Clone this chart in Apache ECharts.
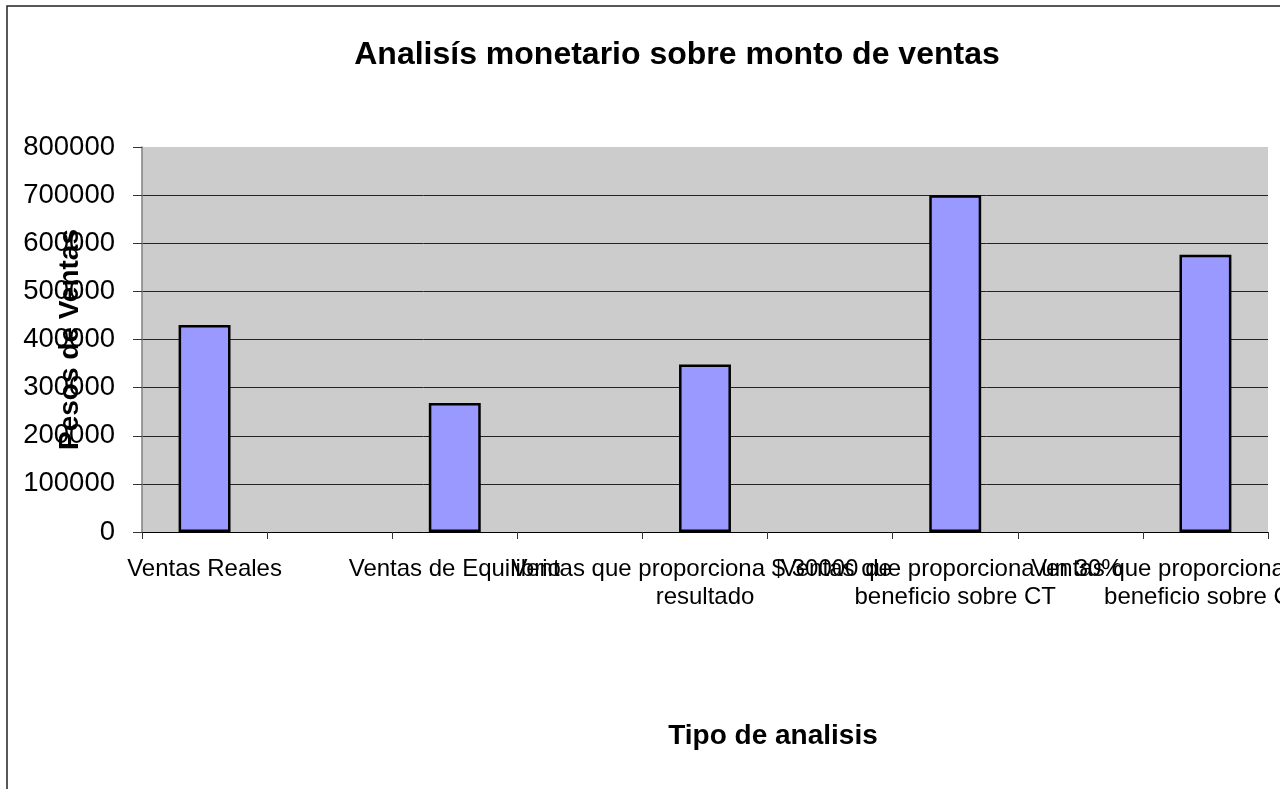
<!DOCTYPE html>
<html>
<head>
<meta charset="utf-8">
<script src="https://cdn.jsdelivr.net/npm/echarts@6/dist/echarts.min.js"></script>
<style>
  html, body { margin: 0; padding: 0; background: #fff; }
  #chart { width: 1280px; height: 789px; }
</style>
</head>
<body>
<div id="chart"></div>
<script>
// categorías (las vacías son filas en blanco de la hoja)
const categories = [
  'Ventas Reales', '',
  'Ventas de Equilibrio', '',
  'Ventas que proporciona $ 30000 de resultado', '',
  'Ventas que proporciona un 30% beneficio sobre CT', '',
  'Ventas que proporciona un 30% beneficio sobre CV'
]
const montos = [430000, null, 268000, null, 348000, null, 700000, null, 576000]
const yMin = 0
const yMax = 800000
const yStep = 100000

const fontName = "'Liberation Sans', Arial, sans-serif"

const chart = echarts.init(document.getElementById('chart'))

const option = {
  animation: false,
  title: {
    text: 'Analisís monetario sobre monto de ventas',
    left: 677,
    top: 39,
    textAlign: 'center',
    padding: 0,
    textStyle: {
      fontFamily: fontName,
      fontSize: 32,
      fontWeight: 'bold',
      color: '#000'
    }
  },
  graphic: [
    { // marco del gráfico
      type: 'rect',
      silent: true,
      shape: { x: 7, y: 6, width: 1400, height: 900 },
      style: { fill: 'none', stroke: '#222', lineWidth: 1.5 }
    }
  ],
  grid: {
    left: 142,
    right: 12,
    top: 147,
    bottom: 257,
    outerBoundsMode: 'none',
    containLabel: false,
    show: true,
    backgroundColor: '#cccccc',
    borderWidth: 0
  },
  xAxis: {
    type: 'category',
    data: categories,
    boundaryGap: true,
    name: 'Tipo de analisis',
    nameLocation: 'middle',
    nameGap: 190,
    nameMoveOverlap: false,
    nameTextStyle: {
      fontFamily: fontName,
      fontSize: 28,
      fontWeight: 'bold',
      color: '#000',
      padding: [0, 0, 0, 136]
    },
    axisLine: { lineStyle: { color: '#000', width: 1 } },
    axisTick: { show: true, length: 7, alignWithLabel: false, interval: 0, lineStyle: { color: '#333' } },
    axisLabel: {
      interval: 0,
      margin: 23,
      fontFamily: fontName,
      fontSize: 24,
      lineHeight: 28,
      color: '#000',
      width: 400,
      overflow: 'break',
      hideOverlap: false
    },
    splitLine: { show: false }
  },
  yAxis: {
    type: 'value',
    min: yMin,
    max: yMax,
    interval: yStep,
    name: 'Pesos de Ventas',
    nameLocation: 'middle',
    nameGap: 58,
    nameMoveOverlap: false,
    nameTextStyle: {
      fontFamily: fontName,
      fontSize: 28,
      fontWeight: 'bold',
      color: '#000'
    },
    axisLine: { show: true, lineStyle: { color: '#808080', width: 1.5 } },
    axisTick: { show: true, length: 9, lineStyle: { color: '#333' } },
    axisLabel: {
      margin: 27,
      fontFamily: fontName,
      fontSize: 27.5,
      color: '#000',
      formatter: (v) => String(v)
    },
    splitLine: {
      show: true,
      showMaxLine: false,
      lineStyle: { color: '#222', width: 1 }
    }
  },
  series: [
    {
      name: 'Monto',
      type: 'bar',
      data: montos,
      barWidth: '41.5%',
      itemStyle: {
        color: '#9999ff',
        borderColor: '#000',
        borderWidth: 2.5
      }
    }
  ]
}

chart.setOption(option)
</script>
</body>
</html>
